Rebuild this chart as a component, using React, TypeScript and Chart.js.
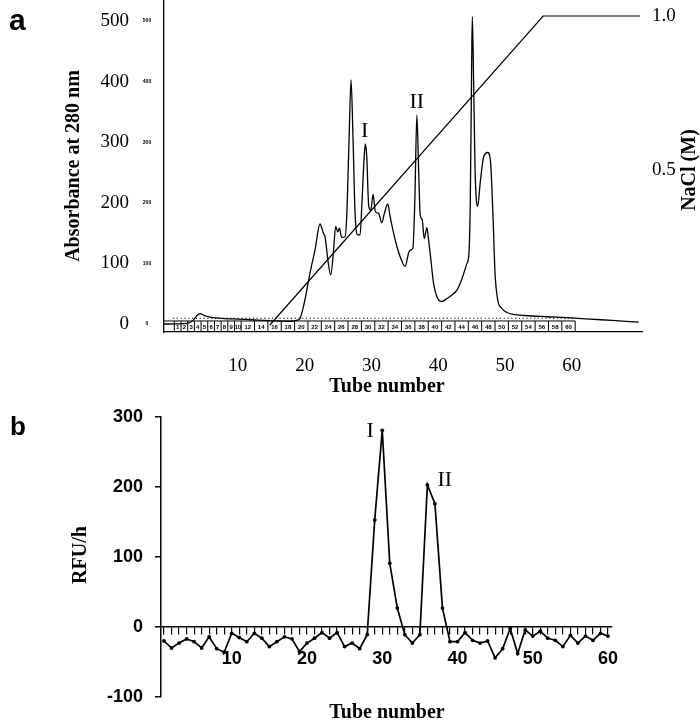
import React, { useEffect, useRef } from 'react';
import { Chart, registerables } from 'chart.js';
Chart.register(...registerables);

const SERIF = '"Liberation Serif", "Times New Roman", serif';
const SANS = '"Liberation Sans", Arial, sans-serif';

// ---------- Panel a data ----------
const absTubes = [
  -1.05, 2.5, 3.3, 3.9, 4.4, 5, 6, 8, 10, 12, 14, 16, 18, 18.8, 19.3, 20.05, 20.8, 21.55, 22.3, 22.8,
  23.05, 23.55, 23.9, 24.3, 24.65, 24.95, 25.2, 25.55, 26.05, 26.3, 26.65, 26.95, 27.25, 27.55, 27.95,
  28.3, 28.6, 28.95, 29.1, 29.3, 29.6, 29.9, 30.25, 30.6, 31.05, 31.55, 31.95, 32.45, 32.8, 33.55,
  34.3, 35.05, 35.55, 35.8, 36.2, 36.5, 36.8, 37.05, 37.3, 37.6, 37.9, 38.3, 38.5, 38.9, 39.3, 39.8,
  40.5, 41.3, 42.05, 42.8, 43.5, 44.3, 44.6, 44.8, 45.0, 45.1, 45.3, 45.5, 45.7, 45.9, 46.3, 46.8,
  47.4, 47.8, 48.2, 48.5, 48.9, 49.5, 50.3, 51.2, 53, 56.3, 60, 62.7, 66, 70
];
const absValues = [
  0, 1, 6, 14, 17, 14, 11, 9, 8, 7, 6, 5, 4.5, 6, 9, 40, 84, 122, 165, 150,
  144, 100, 81, 117, 161, 152, 158, 143, 144, 177, 304, 403, 304, 183, 147,
  147, 205, 282, 297, 276, 194, 188, 214, 185, 183, 167, 183, 198, 177, 139,
  111, 95, 117, 122, 125, 205, 345, 260, 180, 172, 141, 159, 144, 106, 67, 45,
  37, 42, 48, 56, 73, 100, 117, 205, 425, 507, 397, 260, 205, 194, 235, 276,
  283, 271, 177, 84, 40, 26, 19, 16, 14, 12, 10, 8, 6, 3
];
const naclTubes = [14.8, 55.7, 70.2];
const naclValues = [0, 1.0, 1.0];
const absTickValues = [0, 100, 200, 300, 400, 500];
const naclTickValues = [0.5, 1.0];
const tubeTickValuesA = [10, 20, 30, 40, 50, 60];
const fractionLabels = [1, 2, 3, 4, 5, 6, 7, 8, 9, 10, 12, 14, 16, 18, 20, 22, 24, 26, 28, 30, 32, 34, 36,
  38, 40, 42, 44, 46, 48, 50, 52, 54, 56, 58, 60];
const peakLabelsA = [
  { text: 'I', tube: 29.0, value: 318 },
  { text: 'II', tube: 36.8, value: 366 },
];

// ---------- Panel b data ----------
const rfuTubes = [1, 2, 3, 4, 5, 6, 7, 8, 9, 10, 11, 12, 13, 14, 15, 16, 17, 18, 19, 20, 21, 22, 23, 24,
  25, 26, 27, 28, 29, 30, 31, 32, 33, 34, 35, 36, 37, 38, 39, 40, 41, 42, 43, 44, 45, 46, 47, 48, 49, 50,
  51, 52, 53, 54, 55, 56, 57, 58, 59, 60];
const rfuValues = [-20, -30, -23, -17, -21, -30, -14, -31, -36, -9, -15, -21, -9, -16, -28, -21, -14, -17,
  -35, -23, -16, -8, -16, -8, -28, -23, -31, -11, 153, 281, 91, 27, -11, -23, -11, 203, 176, 27, -21, -21,
  -8, -19, -23, -20, -44, -31, -2, -38, -4, -13, -6, -16, -19, -28, -12, -23, -13, -19, -9, -13];
const rfuTickValues = [-100, 0, 100, 200, 300];
const tubeLabelValuesB = [10, 20, 30, 40, 50, 60];
const peakLabelsB = [
  { text: 'I', tube: 28.4, value: 280 },
  { text: 'II', tube: 38.3, value: 209 },
];

const zeroPad = (s: any) => {
  s.paddingTop = 0; s.paddingBottom = 0; s.paddingLeft = 0; s.paddingRight = 0;
};

function PanelA() {
  const ref = useRef<HTMLCanvasElement>(null);
  useEffect(() => {
    const plugin = {
      id: 'panelAExtras',
      afterDraw(chart: any) {
        const { ctx, chartArea, scales } = chart;
        const xs = scales.x, ys = scales.y;
        ctx.save();
        // fraction strip
        const top = ys.getPixelForValue(5);
        const bottom = chartArea.bottom;
        ctx.strokeStyle = '#000';
        ctx.lineWidth = 1;
        ctx.beginPath();
        ctx.moveTo(chartArea.left, top);
        ctx.lineTo(xs.getPixelForValue(60.5), top);
        ctx.moveTo(xs.getPixelForValue(0.5), top);
        ctx.lineTo(xs.getPixelForValue(0.5), bottom);
        fractionLabels.forEach((k) => {
          const hi = xs.getPixelForValue(k + 0.5);
          ctx.moveTo(hi, top);
          ctx.lineTo(hi, bottom);
        });
        ctx.stroke();
        ctx.fillStyle = '#000';
        ctx.font = `bold 6px ${SANS}`;
        ctx.textAlign = 'center';
        ctx.textBaseline = 'middle';
        fractionLabels.forEach((k) => {
          const lo = k <= 10 ? k - 0.5 : k - 1.5;
          const cx = (xs.getPixelForValue(lo) + xs.getPixelForValue(k + 0.5)) / 2;
          ctx.fillText(String(k), cx, (top + bottom) / 2 + 0.5);
        });
        // dotted line
        ctx.setLineDash([1.2, 2.6]);
        ctx.beginPath();
        const dy = ys.getPixelForValue(9.5);
        ctx.moveTo(xs.getPixelForValue(0.3), dy);
        ctx.lineTo(xs.getPixelForValue(60.3), dy);
        ctx.stroke();
        ctx.setLineDash([]);
        // tiny duplicate tick labels
        ctx.font = `bold 5px ${SANS}`;
        ctx.textAlign = 'center';
        absTickValues.forEach((v) => {
          ctx.fillText(String(v), 147, ys.getPixelForValue(v));
        });
        // peak labels
        ctx.font = `22px ${SERIF}`;
        peakLabelsA.forEach((p) => {
          ctx.fillText(p.text, xs.getPixelForValue(p.tube), ys.getPixelForValue(p.value));
        });
        // panel letter
        ctx.font = `bold 30px ${SANS}`;
        ctx.textAlign = 'left';
        ctx.textBaseline = 'alphabetic';
        ctx.fillText('a', 9, 30);
        // titles
        ctx.font = `bold 20px ${SERIF}`;
        ctx.textAlign = 'center';
        ctx.textBaseline = 'middle';
        ctx.fillText('Tube number', 387, 387);
        ctx.save();
        ctx.translate(74, 166);
        ctx.rotate(-Math.PI / 2);
        ctx.fillText('Absorbance at 280 nm', 0, 0);
        ctx.restore();
        ctx.save();
        ctx.translate(690, 170);
        ctx.rotate(-Math.PI / 2);
        ctx.fillText('NaCl (M)', 0, 0);
        ctx.restore();
        ctx.restore();
      },
    };
    const chart = new Chart(ref.current as HTMLCanvasElement, {
      type: 'line',
      data: {
        datasets: [
          {
            data: absTubes.map((t, i) => ({ x: t, y: absValues[i] })),
            borderColor: '#000',
            borderWidth: 1.3,
            pointRadius: 0,
            cubicInterpolationMode: 'monotone',
            yAxisID: 'y',
          },
          {
            data: naclTubes.map((t, i) => ({ x: t, y: naclValues[i] })),
            borderColor: '#000',
            borderWidth: 1.2,
            pointRadius: 0,
            tension: 0,
            yAxisID: 'y2',
          },
        ],
      },
      options: {
        animation: false,
        responsive: false,
        plugins: { legend: { display: false }, tooltip: { enabled: false } },
        layout: { padding: 0 },
        scales: {
          x: {
            type: 'linear', min: -1.05, max: 70.5, position: 'bottom',
            afterFit: (s: any) => { s.height = 68; zeroPad(s); },
            afterBuildTicks: (s: any) => { s.ticks = tubeTickValuesA.map((v) => ({ value: v })); },
            grid: { display: false },
            border: { display: true, color: '#000', width: 1.3 },
            ticks: { font: { family: SERIF, size: 19 }, color: '#000', padding: 15, maxRotation: 0, autoSkip: false },
          },
          y: {
            type: 'linear', min: -13.2, max: 534.65, position: 'left',
            afterFit: (s: any) => { s.width = 164; zeroPad(s); },
            afterBuildTicks: (s: any) => { s.ticks = absTickValues.map((v) => ({ value: v })); },
            grid: { display: false },
            border: { display: true, color: '#000', width: 1.3 },
            ticks: { font: { family: SERIF, size: 19 }, color: '#000', padding: 27 },
          },
          y2: {
            type: 'linear', min: -0.0227, max: 1.0518, position: 'right',
            afterFit: (s: any) => { s.width = 58; zeroPad(s); },
            afterBuildTicks: (s: any) => { s.ticks = naclTickValues.map((v) => ({ value: v })); },
            grid: { display: false },
            border: { display: false },
            ticks: { font: { family: SERIF, size: 19 }, color: '#000', padding: 2, callback: (v: any) => Number(v).toFixed(1) },
          },
        },
      } as any,
      plugins: [plugin],
    } as any);
    return () => chart.destroy();
  }, []);
  return <canvas ref={ref} width={700} height={400} style={{ position: 'absolute', left: 0, top: 0, width: 700, height: 400 }} />;
}

function PanelB() {
  const ref = useRef<HTMLCanvasElement>(null);
  useEffect(() => {
    const plugin = {
      id: 'panelBExtras',
      afterDraw(chart: any) {
        const { ctx, scales } = chart;
        const xs = scales.x, ys = scales.y;
        ctx.save();
        ctx.fillStyle = '#000';
        ctx.textAlign = 'center';
        ctx.textBaseline = 'middle';
        ctx.font = `22px ${SERIF}`;
        peakLabelsB.forEach((p) => {
          ctx.fillText(p.text, xs.getPixelForValue(p.tube), ys.getPixelForValue(p.value));
        });
        ctx.font = `bold 26px ${SANS}`;
        ctx.textAlign = 'left';
        ctx.textBaseline = 'alphabetic';
        ctx.fillText('b', 10, 35);
        ctx.font = `bold 20px ${SERIF}`;
        ctx.textAlign = 'center';
        ctx.textBaseline = 'middle';
        ctx.fillText('Tube number', 387, 313);
        ctx.save();
        ctx.translate(81, 155);
        ctx.rotate(-Math.PI / 2);
        ctx.fillText('RFU/h', 0, 0);
        ctx.restore();
        ctx.restore();
      },
    };
    const chart = new Chart(ref.current as HTMLCanvasElement, {
      type: 'line',
      data: {
        datasets: [
          {
            data: rfuTubes.map((t, i) => ({ x: t, y: rfuValues[i] })),
            borderColor: '#000',
            borderWidth: 1.7,
            pointRadius: 1.9,
            pointBackgroundColor: '#000',
            pointBorderWidth: 0,
            tension: 0,
          },
        ],
      },
      options: {
        animation: false,
        responsive: false,
        plugins: { legend: { display: false }, tooltip: { enabled: false } },
        layout: { padding: { top: 17, bottom: 26, right: 88, left: 0 } },
        scales: {
          x: {
            type: 'linear', min: 0.6, max: 60.53, position: { y: 0 },
            afterFit: (s: any) => { zeroPad(s); },
            afterBuildTicks: (s: any) => { s.ticks = rfuTubes.map((v) => ({ value: v })); },
            grid: { display: true, drawOnChartArea: false, drawTicks: true, tickLength: 7, color: '#000', lineWidth: 1.2 },
            border: { display: true, color: '#000', width: 1.5 },
            ticks: {
              font: { family: SANS, size: 18, weight: 'bold' }, color: '#000', padding: 14,
              maxRotation: 0, autoSkip: false,
              callback: (v: any) => (tubeLabelValuesB.includes(Number(v)) ? String(v) : ''),
            },
          },
          y: {
            type: 'linear', min: -100, max: 300, position: 'left',
            afterFit: (s: any) => { s.width = 161; zeroPad(s); },
            afterBuildTicks: (s: any) => { s.ticks = rfuTickValues.map((v) => ({ value: v })); },
            grid: { display: true, drawOnChartArea: false, drawTicks: true, tickLength: 6, color: '#000', lineWidth: 1.5 },
            border: { display: true, color: '#000', width: 1.5 },
            ticks: { font: { family: SANS, size: 18, weight: 'bold' }, color: '#000', padding: 12 },
          },
        },
      } as any,
      plugins: [plugin],
    } as any);
    return () => chart.destroy();
  }, []);
  return <canvas ref={ref} width={700} height={323} style={{ position: 'absolute', left: 0, top: 400, width: 700, height: 323 }} />;
}

export default function App() {
  return (
    <div style={{ position: 'absolute', left: 0, top: 0, width: 700, height: 723, background: '#fff' }}>
      <PanelA />
      <PanelB />
    </div>
  );
}
